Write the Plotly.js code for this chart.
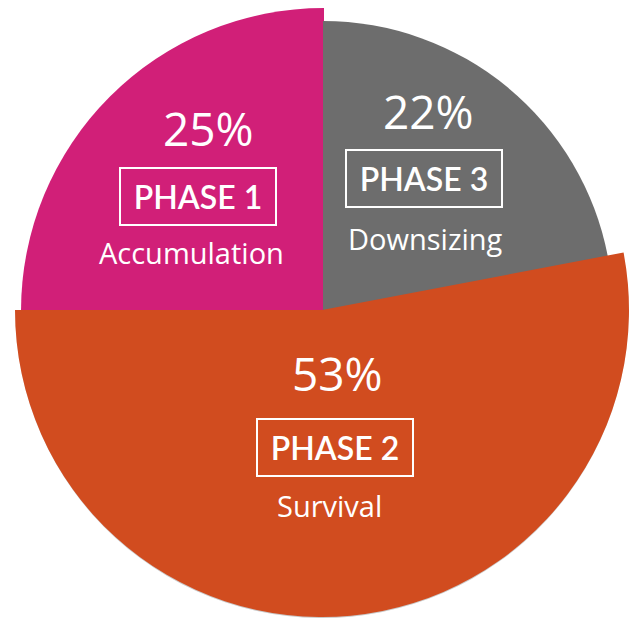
<!DOCTYPE html>
<html>
<head>
<meta charset="utf-8">
<script src="https://cdn.plot.ly/plotly-3.0.1.min.js"></script>
<style>html,body{margin:0;padding:0;background:#fff;}#chart{width:642px;height:618px;}</style>
</head>
<body>
<div id="chart"></div>
<script>
// ---- data ----
const phases = ['PHASE 3', 'PHASE 2', 'PHASE 1'];
const names = ['Downsizing', 'Survival', 'Accumulation'];
const shares = [22, 53, 25];
const colors = ['#6d6d6d', '#d14c1f', '#d11f78'];

// ---- layout helpers ----
const W = 642, H = 618;
const CLEAR = 'rgba(0,0,0,0)';
function dom(cx, cy, r) {
  return { x: [(cx - r) / W, (cx + r) / W], y: [1 - (cy + r) / H, 1 - (cy - r) / H] };
}
// per-slice geometry (centre x, centre y, radius in px)
const geom = [
  { cx: 323, cy: 311, r: 290 },  // phase 3
  { cx: 322, cy: 310, r: 307 },  // phase 2
  { cx: 324, cy: 311, r: 303 }   // phase 1
];

function sliceTrace(i, col, g) {
  return {
    type: 'pie',
    values: shares,
    labels: phases,
    sort: false,
    direction: 'clockwise',
    rotation: 0,
    textinfo: 'none',
    hoverinfo: 'skip',
    showlegend: false,
    marker: { colors: shares.map((_, j) => j === i ? col : CLEAR), line: { width: 0 } },
    domain: dom(g.cx, g.cy, g.r)
  };
}

const traces = [];
// soft shadow under the big slice
traces.push(sliceTrace(1, 'rgba(0,0,0,0.10)', { cx: 322, cy: 314, r: 308 }));
traces.push(sliceTrace(1, 'rgba(0,0,0,0.12)', { cx: 322, cy: 312, r: 307.5 }));
traces.push(sliceTrace(2, colors[2], geom[2]));
traces.push(sliceTrace(0, colors[0], geom[0]));
traces.push(sliceTrace(1, colors[1], geom[1]));

// label block positions (px)
const blocks = [
  { pct: [428, 111], box: [424, 179], name: [425, 238] },
  { pct: [338, 373], box: [335, 447], name: [330, 505] },
  { pct: [208, 128], box: [198, 197], name: [192, 253] }
];
const FONT = '"Open Sans", Lato, sans-serif';
const ann = [];
blocks.forEach((b, i) => {
  ann.push({ xref: 'paper', yref: 'paper', x: b.pct[0] / W, y: 1 - b.pct[1] / H,
    xanchor: 'center', yanchor: 'middle', showarrow: false,
    text: shares[i] + '%', font: { family: FONT, size: 46, color: '#fff' } });
  ann.push({ xref: 'paper', yref: 'paper', x: b.box[0] / W, y: 1 - b.box[1] / H,
    xanchor: 'center', yanchor: 'middle', showarrow: false,
    text: phases[i], font: { family: 'Lato, "Open Sans", sans-serif', size: 32, color: '#fff', weight: 600 },
    bordercolor: '#fff', borderwidth: 2, borderpad: 0, width: 154, height: 55 });
  ann.push({ xref: 'paper', yref: 'paper', x: b.name[0] / W, y: 1 - b.name[1] / H,
    xanchor: 'center', yanchor: 'middle', showarrow: false,
    text: names[i], font: { family: FONT, size: 29, color: '#fff' } });
});

const layout = {
  width: W, height: H,
  margin: { l: 0, r: 0, t: 0, b: 0 },
  paper_bgcolor: '#fff',
  showlegend: false,
  annotations: ann
};
Plotly.newPlot('chart', traces, layout, { displayModeBar: false, staticPlot: true });
</script>
</body>
</html>
